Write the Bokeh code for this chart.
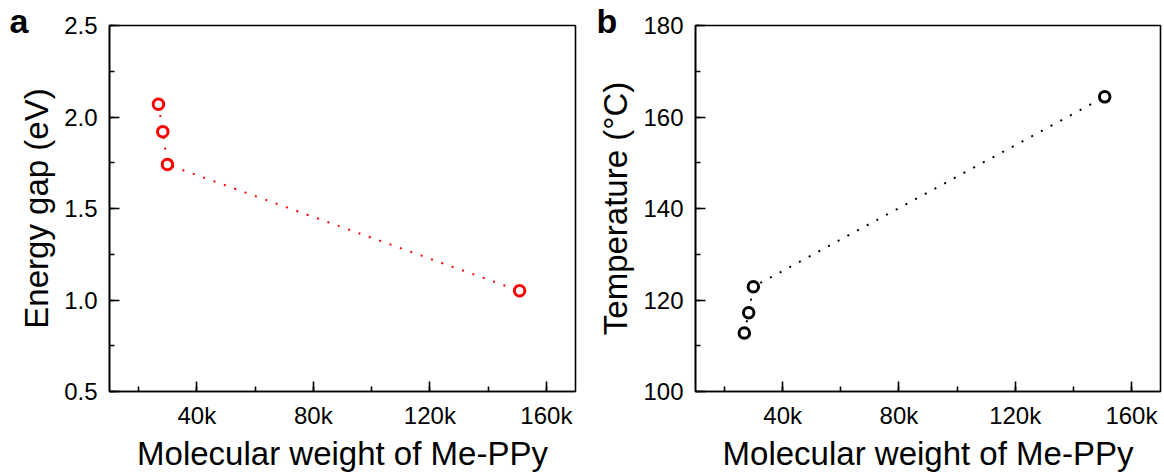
from bokeh.plotting import figure
from bokeh.layouts import row
from bokeh.models import (SingleIntervalTicker, CustomJSTickFormatter, PrintfTickFormatter,
                          Range1d, Title)
from bokeh.embed import file_html
from bokeh.resources import INLINE

# ---- data ----
mw = [26800, 28300, 29900, 150800]          # molecular weight of Me-PPy
energy_gap = [2.07, 1.92, 1.74, 1.05]       # eV
temperature = [112.8, 117.2, 122.9, 164.4]  # degC

x_label = "Molecular weight of Me-PPy"
ya_label = "Energy gap (eV)"
yb_label = "Temperature (\u00b0C)"

FONT = "Liberation Sans"


def make_panel(y, color, y_range, y_interval, y_fmt, y_label, panel_letter,
               left_border, right_border, letter_x):
    p = figure(width=582, height=474, output_backend="svg", toolbar_location=None,
               x_range=Range1d(10000, 170000), y_range=Range1d(*y_range),
               min_border_left=left_border, min_border_right=right_border,
               min_border_top=25, min_border_bottom=82)
    p.grid.visible = False
    p.outline_line_color = "black"
    p.outline_line_width = 1.6
    p.background_fill_color = "white"
    p.border_fill_color = "white"

    p.line(mw, y, line_color=color, line_width=2, line_dash="2 9")
    p.scatter(mw, y, marker="circle", size=10.5, line_width=3, line_color=color,
              fill_color="white")

    p.xaxis.ticker = SingleIntervalTicker(interval=40000, num_minor_ticks=2)
    p.xaxis.formatter = CustomJSTickFormatter(code="return (tick/1000).toFixed(0) + 'k';")
    p.yaxis.ticker = SingleIntervalTicker(interval=y_interval, num_minor_ticks=2)
    p.yaxis.formatter = PrintfTickFormatter(format=y_fmt)

    for ax in (p.xaxis[0], p.yaxis[0]):
        ax.axis_line_width = 1.6
        ax.major_tick_in = 10
        ax.major_tick_out = 0
        ax.minor_tick_in = 5
        ax.minor_tick_out = 0
        ax.major_tick_line_width = 1.6
        ax.minor_tick_line_width = 1.6
        ax.major_label_text_font = FONT
        ax.major_label_text_font_size = "24px"
        ax.major_label_text_color = "black"
        ax.axis_label_text_font = FONT
        ax.axis_label_text_font_size = "33px"
        ax.axis_label_text_font_style = "normal"
        ax.axis_label_text_color = "black"

    p.xaxis.axis_label = x_label
    p.yaxis.axis_label = y_label
    p.xaxis.major_label_standoff = 10
    p.xaxis.axis_label_standoff = 3
    p.yaxis.major_label_standoff = 12
    p.yaxis.axis_label_standoff = 6

    # panel letter as a left-aligned title, pulled down next to the frame corner
    t = Title(text=panel_letter, text_font=FONT, text_font_size="34px",
              text_font_style="bold", text_color="black", align="left",
              offset=letter_x - left_border, standoff=-28)
    p.add_layout(t, "above")
    return p


pa = make_panel(energy_gap, "#ff0000", (0.5, 2.5), 0.5, "%.1f", ya_label, "a", 109, 7, 9)
pb = make_panel(temperature, "black", (100, 180), 20, "%d", yb_label, "b", 113, 4, 14)

layout = row(pa, pb)
open("out.html", "w").write(file_html(layout, INLINE))
